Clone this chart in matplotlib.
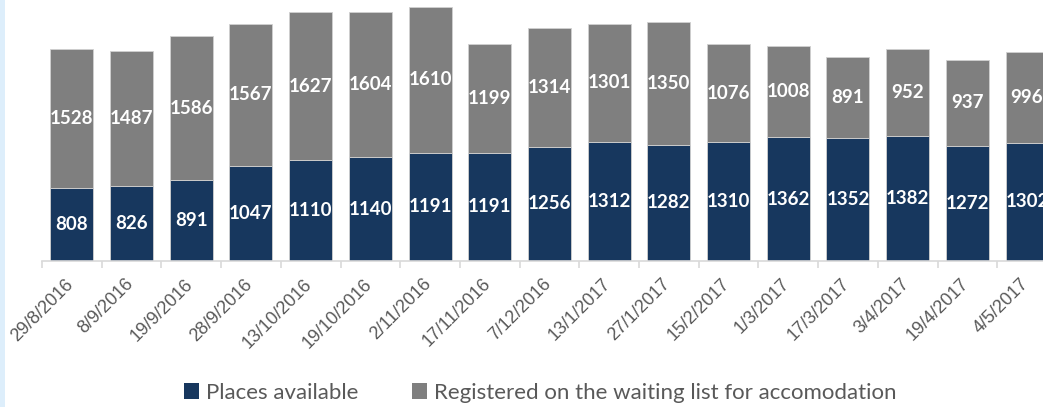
import numpy as np
import matplotlib
matplotlib.use("Agg")
import matplotlib.pyplot as plt
from matplotlib.patches import Rectangle, Patch

#data
dates = ["29/8/2016", "8/9/2016", "19/9/2016", "28/9/2016", "13/10/2016",
         "19/10/2016", "2/11/2016", "17/11/2016", "7/12/2016", "13/1/2017",
         "27/1/2017", "15/2/2017", "1/3/2017", "17/3/2017", "3/4/2017",
         "19/4/2017", "4/5/2017"]
places = [808, 826, 891, 1047, 1110, 1140, 1191, 1191, 1256, 1312,
          1282, 1310, 1362, 1352, 1382, 1272, 1302]
waiting = [1528, 1487, 1586, 1567, 1627, 1604, 1610, 1199, 1314, 1301,
           1350, 1076, 1008, 891, 952, 937, 996]

navy = "#17375E"
grey = "#7F7F7F"
txt_grey = "#595959"
lbl_font = ["Lato", "DejaVu Sans"]

W, H = 1043, 407
fig = plt.figure(figsize=(W/100, H/100), dpi=100)

#light blue strip on the left edge
fig.patches.append(Rectangle((0, 0), 5/W, 1, transform=fig.transFigure,
                             facecolor="#DDEEFB", edgecolor="none"))

#axes run off the right edge, like the cropped original
ax_left = 42/W
ax_w = 17*59.7/W
ax_bot = 146/H
ymax = 2870
ax_h = ymax*0.0908/H
ax = fig.add_axes([ax_left, ax_bot, ax_w, ax_h])

x = np.arange(len(dates))
bw = 0.72
b1 = ax.bar(x, places, width=bw, color=navy, edgecolor="#D0D0D0", linewidth=0.6, zorder=2)
b2 = ax.bar(x, waiting, width=bw, bottom=places, color=grey, edgecolor="#D0D0D0", linewidth=0.6, zorder=2)

for i in range(len(dates)):
    ax.text(x[i], places[i]/2, str(places[i]), ha="center", va="center",
            color="white", fontsize=13.5, fontweight="bold", family=lbl_font, zorder=3)
    ax.text(x[i], places[i] + waiting[i]/2, str(waiting[i]), ha="center", va="center",
            color="white", fontsize=13.5, fontweight="bold", family=lbl_font, zorder=3)

ax.set_xlim(-0.5, len(dates)-0.5)
ax.set_ylim(0, ymax)
for s in ["top", "right", "left"]:
    ax.spines[s].set_visible(False)
ax.spines["bottom"].set_color("#D9D9D9")
ax.spines["bottom"].set_linewidth(1.2)
ax.set_yticks([])

#tick marks sit between categories
ax.set_xticks(np.arange(len(dates)+1) - 0.5)
ax.set_xticklabels([])
ax.tick_params(axis="x", length=5, width=1.2, color="#D9D9D9")
for i, d in enumerate(dates):
    ax.text(x[i] - 0.12, -160, d, rotation=45, rotation_mode="anchor",
            ha="right", va="top", fontsize=13, color=txt_grey,
            family=["Liberation Sans", "DejaVu Sans"])

handles = [Patch(facecolor=navy, edgecolor="none"), Patch(facecolor=grey, edgecolor="none")]
fig.legend(handles, ["Places available", "Registered on the waiting list for accomodation"],
           loc="center", bbox_to_anchor=(540/W, 14/H), ncol=2, frameon=False,
           prop={"family": lbl_font, "size": 16}, labelcolor=txt_grey,
           handlelength=0.7, handleheight=0.7, handletextpad=0.3, columnspacing=2.4)

fig.savefig("out.png", dpi=100)
